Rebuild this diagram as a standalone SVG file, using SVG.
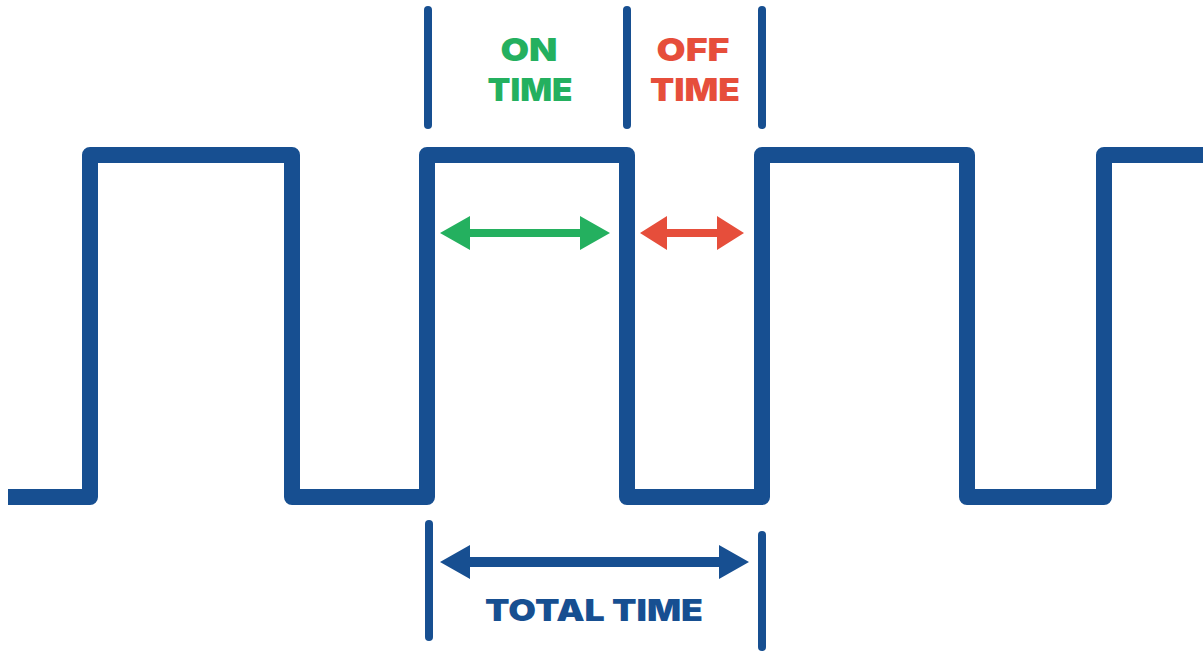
<svg xmlns="http://www.w3.org/2000/svg" width="1203" height="652" viewBox="0 0 1203 652">
<style>
.wave{fill:none;stroke:#174f91;stroke-width:16;stroke-linejoin:round}
.mark{stroke:#174f91;stroke-width:8;stroke-linecap:round}
.lbl{font-family:Inter,Lato,"Liberation Sans",sans-serif;font-weight:900;text-anchor:middle}
</style>
<rect width="1203" height="652" fill="#fff"/>
<g id="waveform">
<path class="wave" d="M8,497 H90 V155 H292 V497 H427 V155 H627 V497 H762 V155 H967 V497 H1104 V155 H1203"/>
</g>
<g id="markers">
<line class="mark" x1="428" y1="10" x2="428" y2="125"/>
<line class="mark" x1="627" y1="10" x2="627" y2="125"/>
<line class="mark" x1="762" y1="10" x2="762" y2="125"/>
<line class="mark" x1="429" y1="524" x2="429" y2="637"/>
<line class="mark" x1="762" y1="535" x2="762" y2="647"/>
</g>
<g id="connectors">
<path fill="#24b05f" d="M440,233 L470,216 L470,229 L580,229 L580,216 L610,233 L580,250 L580,237 L470,237 L470,250 Z"/>
<path fill="#e64e3b" d="M640,233 L667,216 L667,229 L717,229 L717,216 L744,233 L717,250 L717,237 L667,237 L667,250 Z"/>
<path fill="#174f91" d="M440,562 L470,545 L470,557 L719,557 L719,545 L749,562 L719,579 L719,567 L470,567 L470,579 Z"/>
</g>
<g id="on-time">
<text class="lbl" x="529" y="61" font-size="32" fill="#24b05f" textLength="57" lengthAdjust="spacingAndGlyphs">ON</text>
<text class="lbl" x="530" y="101" font-size="32" fill="#24b05f" textLength="85" lengthAdjust="spacingAndGlyphs">TIME</text>
</g>
<g id="off-time">
<text class="lbl" x="693" y="61" font-size="32" fill="#e64e3b" textLength="73" lengthAdjust="spacingAndGlyphs">OFF</text>
<text class="lbl" x="695" y="101" font-size="32" fill="#e64e3b" textLength="90" lengthAdjust="spacingAndGlyphs">TIME</text>
</g>
<g id="total-time">
<text class="lbl" x="594" y="621" font-size="30" fill="#174f91" textLength="218" lengthAdjust="spacingAndGlyphs">TOTAL TIME</text>
</g>
</svg>
